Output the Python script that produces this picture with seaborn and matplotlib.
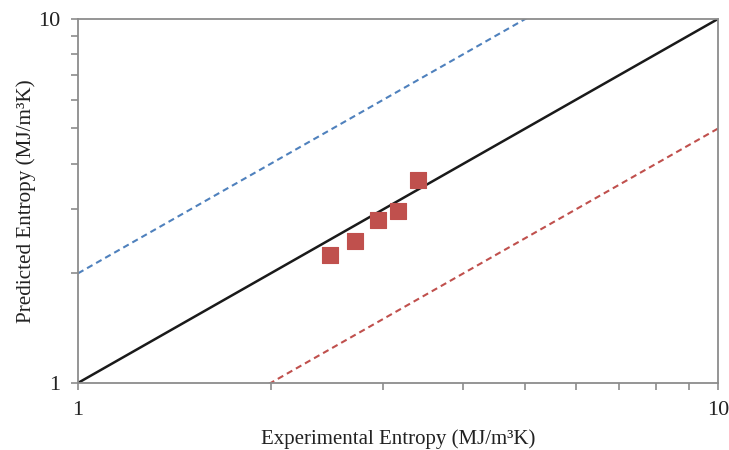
import matplotlib
matplotlib.use("Agg")
import matplotlib.pyplot as plt
import seaborn as sns
import pandas as pd
from matplotlib.ticker import LogLocator, NullFormatter, FixedLocator, FixedFormatter

# Data
experimental = [2.48, 2.71, 2.94, 3.16, 3.40]
predicted = [2.25, 2.45, 2.80, 2.97, 3.61]
ref_x = [1, 10, 20]
parity_y = [1, 10, 20]
upper_y = [2, 20, 40]
lower_y = [0.5, 5, 10]
tick_vals = [1, 10]
tick_labels = ["1", "10"]

sns.set_theme(style="white")
plt.rcParams['font.family'] = ['Liberation Serif', 'DejaVu Serif']

fig = plt.figure(figsize=(7.29, 4.5), dpi=100)
ax = fig.add_axes([0.107, 0.149, 0.878, 0.809])

df_ref = pd.DataFrame({"x": ref_x, "parity": parity_y, "upper": upper_y, "lower": lower_y})
sns.lineplot(data=df_ref, x="x", y="upper", ax=ax, color="#4F81BD", lw=1.5,
             linestyle=(0, (3, 2)), sort=False)
sns.lineplot(data=df_ref, x="x", y="lower", ax=ax, color="#C0504D", lw=1.5,
             linestyle=(0, (3, 2)), sort=False)
sns.lineplot(data=df_ref, x="x", y="parity", ax=ax, color="#1a1a1a", lw=1.8, sort=False)

df = pd.DataFrame({"exp": experimental, "pred": predicted})
sns.scatterplot(data=df, x="exp", y="pred", ax=ax, marker="s", s=130,
                color="#C0504D", edgecolor="#C0504D", linewidth=0.8, zorder=5)

ax.set_xscale("log")
ax.set_yscale("log")
ax.set_xlim(1, 10)
ax.set_ylim(1, 10)

ax.xaxis.set_major_locator(FixedLocator(tick_vals))
ax.xaxis.set_major_formatter(FixedFormatter(tick_labels))
ax.yaxis.set_major_locator(FixedLocator(tick_vals))
ax.yaxis.set_major_formatter(FixedFormatter(tick_labels))
ax.xaxis.set_minor_locator(LogLocator(base=10, subs=range(2, 10)))
ax.yaxis.set_minor_locator(LogLocator(base=10, subs=range(2, 10)))
ax.xaxis.set_minor_formatter(NullFormatter())
ax.yaxis.set_minor_formatter(NullFormatter())

for sp in ax.spines.values():
    sp.set_color("#8c8c8c")
    sp.set_linewidth(1.3)

ax.tick_params(which="both", direction="out", color="#8c8c8c", width=1.2,
               bottom=True, left=True, top=False, right=False)
ax.tick_params(which="major", length=5, labelsize=16, pad=8, labelcolor="#222222")
ax.tick_params(which="minor", length=5)

ax.set_xlabel("Experimental Entropy (MJ/m³K)", fontsize=15, color="#222222", labelpad=7)
ax.set_ylabel("Predicted Entropy (MJ/m³K)", fontsize=15.2, color="#222222")
ax.yaxis.set_label_coords(-0.065, 0.5)

fig.savefig("out.png", dpi=100)
